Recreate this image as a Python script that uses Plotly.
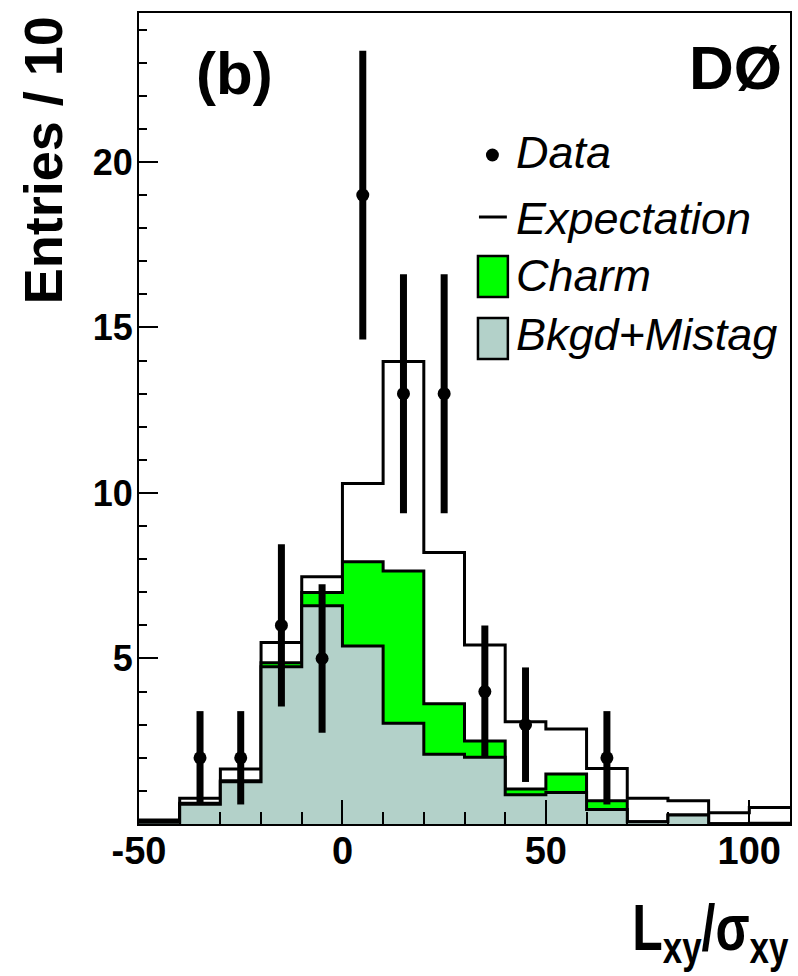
import plotly.graph_objects as go

# ---------------- data ----------------
bin_low = [-50, -40, -30, -20, -10, 0, 10, 20, 30, 40, 50, 60, 70, 80, 90, 100]
bin_width = 10
expectation = [0.12, 0.78, 1.66, 5.48, 7.47, 10.29, 13.97, 8.20, 5.41, 3.09, 2.87, 1.68, 0.78, 0.70, 0.34, 0.50]
bkgd_mistag = [0.05, 0.60, 1.28, 4.75, 6.59, 5.38, 3.04, 2.11, 2.02, 0.88, 0.95, 0.44, 0.07, 0.27, 0.01, 0.01]
charm = [0.02, 0.03, 0.03, 0.12, 0.40, 2.54, 4.60, 1.52, 0.49, 0.18, 0.56, 0.26, 0.00, 0.00, 0.00, 0.01]

data_x = [-35, -25, -15, -5, 5, 15, 25, 35, 45, 65]
data_y = [2, 2, 6, 5, 19, 13, 13, 4, 3, 2]
data_err = [1.41, 1.41, 2.45, 2.24, 4.36, 3.61, 3.61, 2.00, 1.73, 1.41]

x_tickvals = [-50, 0, 50, 100]
x_ticktext = ["-50", "0", "50", "100"]
y_tickvals = [5, 10, 15, 20]
y_ticktext = ["5", "10", "15", "20"]

legend_labels = ["Data", "Expectation", "Charm", "Bkgd+Mistag"]

# ---------------- style ----------------
GREEN = "#00ff00"
TEAL = "#b3d1c9"
FONT = "Liberation Sans, Arial, Helvetica, sans-serif"

W, H = 798, 976
L, R, T, B = 139, 792, 13, 824


def px_x(px):
    return (px - L) / (R - L)


def px_y(py):
    return (B - py) / (B - T)


def step(values):
    xs = list(bin_low) + [bin_low[-1] + bin_width]
    ys = list(values) + [values[-1]]
    return xs, ys


fig = go.Figure()

# Expectation (total) - white fill with black outline
xs, ys = step(expectation)
fig.add_trace(go.Scatter(x=xs, y=ys, mode="lines", line=dict(shape="hv", color="black", width=3),
                         fill="tozeroy", fillcolor="white", showlegend=False, hoverinfo="skip"))

# Charm stacked on Bkgd+Mistag
charm_top = [b + c for b, c in zip(bkgd_mistag, charm)]
xs, ys = step(charm_top)
fig.add_trace(go.Scatter(x=xs, y=ys, mode="lines", line=dict(shape="hv", color="black", width=3),
                         fill="tozeroy", fillcolor=GREEN, showlegend=False, hoverinfo="skip"))

# Bkgd+Mistag
xs, ys = step(bkgd_mistag)
fig.add_trace(go.Scatter(x=xs, y=ys, mode="lines", line=dict(shape="hv", color="black", width=3),
                         fill="tozeroy", fillcolor=TEAL, showlegend=False, hoverinfo="skip"))

# Data
fig.add_trace(go.Scatter(x=data_x, y=data_y, mode="markers",
                         marker=dict(color="black", size=13, symbol="circle"),
                         error_y=dict(type="data", array=data_err, visible=True,
                                      color="black", thickness=7, width=0),
                         showlegend=False))

fig.update_layout(
    width=W, height=H,
    margin=dict(l=L, r=W - R, t=T, b=H - B, pad=0),
    paper_bgcolor="white", plot_bgcolor="white",
    font=dict(family=FONT, color="black"),
    showlegend=False,
)

fig.update_xaxes(
    range=[-50, 110], showgrid=False, zeroline=False,
    showline=True, linecolor="black", linewidth=2, mirror=True,
    tickmode="array", tickvals=x_tickvals, ticktext=x_ticktext,
    ticks="inside", ticklen=24, tickwidth=2, tickcolor="black",
    tickfont=dict(family=FONT, size=38, weight="bold"),
    ticklabelstandoff=-8,
    minor=dict(dtick=10, tick0=0, ticks="inside", ticklen=12, tickwidth=2, tickcolor="black", showgrid=False),
)
fig.update_yaxes(
    range=[0, 24.5], showgrid=False, zeroline=False,
    showline=True, linecolor="black", linewidth=2, mirror=True,
    tickmode="array", tickvals=y_tickvals, ticktext=y_ticktext,
    ticks="inside", ticklen=19, tickwidth=2, tickcolor="black",
    tickfont=dict(family=FONT, size=36, weight="bold"),
    ticklabelstandoff=-3,
    minor=dict(dtick=1, tick0=0, ticks="inside", ticklen=8, tickwidth=2, tickcolor="black", showgrid=False),
)

ann = []
shapes = []

# Axis titles
ann.append(dict(text="<b>Entries / 10</b>", textangle=-90, xref="paper", yref="paper",
                x=px_x(43), y=px_y(160), xanchor="center", yanchor="middle", showarrow=False,
                font=dict(family=FONT, size=54)))
ann.append(dict(text="<b>L<sub>xy</sub>/σ<sub>xy</sub></b>", xref="paper", yref="paper",
                x=px_x(792), y=px_y(932), xanchor="right", yanchor="middle", showarrow=False,
                font=dict(family=FONT, size=64)))

# Panel labels
ann.append(dict(text="<b>(b)</b>", xref="paper", yref="paper", x=px_x(235), y=px_y(74),
                xanchor="center", yanchor="middle", showarrow=False, font=dict(family=FONT, size=60)))
ann.append(dict(text="<b>DØ</b>", xref="paper", yref="paper", x=px_x(786), y=px_y(68),
                xanchor="right", yanchor="middle", showarrow=False, font=dict(family=FONT, size=62)))

# Manual legend
text_x = 515
rows_y = [153, 218, 276, 334]
for lab, yy in zip(legend_labels, rows_y):
    ann.append(dict(text=lab, xref="paper", yref="paper", x=px_x(text_x), y=px_y(yy),
                    xanchor="left", yanchor="middle", showarrow=False,
                    font=dict(family=FONT, size=45, style="italic")))

# Data dot
shapes.append(dict(type="circle", xref="paper", yref="paper",
                   x0=px_x(487), x1=px_x(500), y0=px_y(161.5), y1=px_y(148.5),
                   fillcolor="black", line=dict(color="black", width=0)))
# Expectation dash
shapes.append(dict(type="line", xref="paper", yref="paper",
                   x0=px_x(480), x1=px_x(508), y0=px_y(217), y1=px_y(217),
                   line=dict(color="black", width=3)))
# Charm box
shapes.append(dict(type="rect", xref="paper", yref="paper",
                   x0=px_x(479), x1=px_x(509), y0=px_y(297), y1=px_y(256),
                   fillcolor=GREEN, line=dict(color="black", width=2.5)))
# Bkgd box
shapes.append(dict(type="rect", xref="paper", yref="paper",
                   x0=px_x(479), x1=px_x(509), y0=px_y(359), y1=px_y(318),
                   fillcolor=TEAL, line=dict(color="black", width=2.5)))

fig.update_layout(annotations=ann, shapes=shapes)

post = """
document.body.style.margin = '0px';
document.body.style.overflow = 'hidden';
var tx = document.querySelectorAll('text.annotation-text');
tx.forEach(function(el){
  if (el.textContent.indexOf('\u03c3') >= 0) {
    el.style.transformBox = 'fill-box';
    el.style.transformOrigin = '100% 50%';
    el.style.transform = 'scaleX(0.78)';
  }
});
"""

fig.write_html("out.html", post_script=post, config={"displayModeBar": False})
